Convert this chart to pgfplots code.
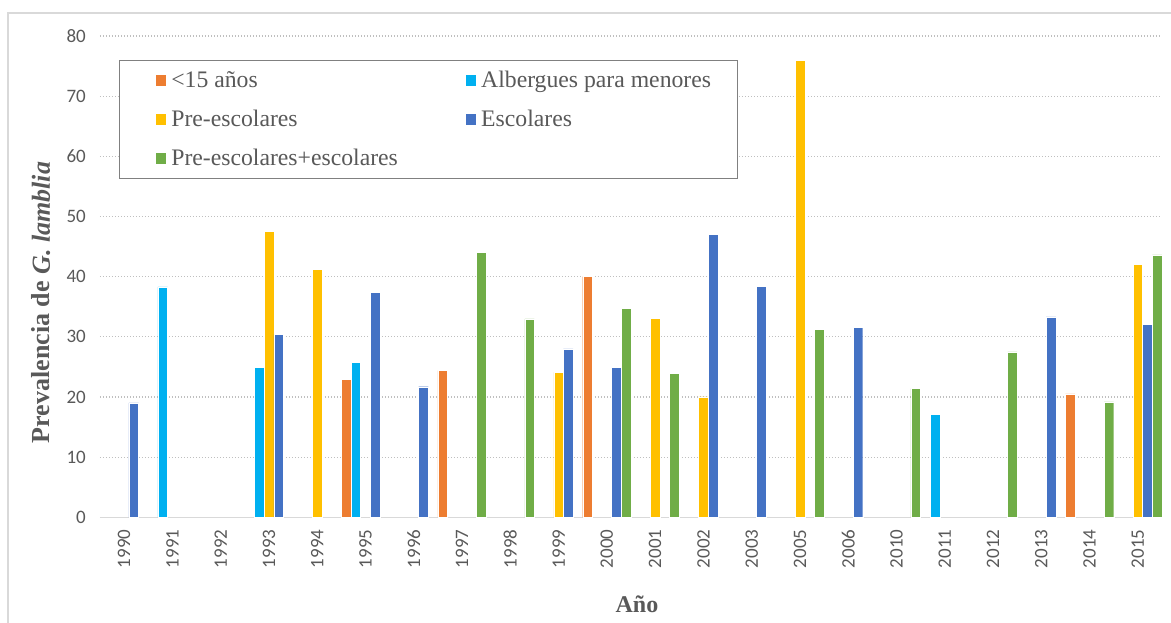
\documentclass[border=0pt]{standalone}
\usepackage{fontspec}
\setmainfont{Liberation Serif}
\newfontfamily\tickfont{Carlito}
\usepackage{pgfplots}
\pgfplotsset{compat=1.18}

\definecolor{cMen}{HTML}{ED7D31}
\definecolor{cAlb}{HTML}{00B0F0}
\definecolor{cPre}{HTML}{FFC000}
\definecolor{cEsc}{HTML}{4472C4}
\definecolor{cMix}{HTML}{70AD47}
\definecolor{txtgray}{HTML}{595959}
\definecolor{gridgray}{HTML}{BFBFBF}
\definecolor{framegray}{HTML}{D9D9D9}

\begin{document}
\begin{tikzpicture}
% page frame (1171 x 623)
\path[use as bounding box] (-100bp,-105.7bp) rectangle (1071bp,517.3bp);
\draw[framegray, line width=1.5bp] (-92bp,-106bp) -- (-92bp,504.3bp) -- (1072bp,504.3bp);

\begin{axis}[
  scale only axis,
  width=1062bp, height=481.3bp,
  xmin=-0.5, xmax=21.5,
  ymin=0, ymax=80,
  ybar, bar width=0.2,
  axis line style={draw=none},
  major tick length=0pt,
  xtick={0,...,21},
  xticklabels={1990,1991,1992,1993,1994,1995,1996,1997,1998,1999,2000,2001,2002,2003,2005,2006,2010,2011,2012,2013,2014,2015},
  xticklabel style={font=\tickfont\fontsize{19bp}{21bp}\selectfont, text=txtgray, rotate=90, anchor=east, inner sep=0pt, xshift=-12bp},
  ytick={10,20,...,80},
  extra y ticks={0},
  extra y tick style={grid style={solid, framegray, line width=1.3bp}},
  ymajorgrids,
  grid style={gridgray, line width=1.1bp, dash pattern=on 1.1bp off 1.9bp},
  yticklabel style={font=\tickfont\fontsize{19bp}{21bp}\selectfont, text=txtgray, inner sep=0pt, xshift=-14bp},
  /pgf/number format/assume math mode=true,
  xlabel={\textbf{Año}},
  ylabel={\textbf{Prevalencia de \textit{G. lamblia}}},
  every axis x label/.style={at={(rel axis cs:0.5056,-0.1968)}, anchor=base,
    font=\fontsize{24bp}{28bp}\selectfont, text=txtgray},
  every axis y label/.style={at={(rel axis cs:-0.0471,0.4463)}, anchor=base, rotate=90,
    font=\fontsize{26bp}{30bp}\selectfont, text=txtgray},
  legend columns=2,
  legend cell align=left,
  legend image code/.code={%
    \path (-10bp,0bp);
    \fill[#1, draw=none] (0bp,-5.6bp) rectangle (10.7bp,5.1bp);},
  legend style={
    at={(0.0179,0.9501)}, anchor=north west,
    draw=gray, line width=0.9bp,
    inner xsep=26bp, inner ysep=9bp,
    row sep=17bp,
    font=\fontsize{23.7bp}{28bp}\selectfont, text=txtgray,
    nodes={inner sep=0pt, text height=18.3bp, text depth=3.7bp},
    /tikz/column 1/.style={column sep=5bp},
    /tikz/column 2/.style={column sep=57.4bp},
    /tikz/column 3/.style={column sep=5bp},
  },
]
% <15 años
\addplot[fill=cMen, draw=white, line width=0.4bp, bar shift=-0.4]
  coordinates {(5,22.9) (7,24.4) (10,40.0) (20,20.5)};
% Albergues para menores
\addplot[fill=cAlb, draw=white, line width=0.4bp, bar shift=-0.2]
  coordinates {(1,38.3) (3,24.9) (5,25.8) (17,17.1)};
% Pre-escolares
\addplot[fill=cPre, draw=white, line width=0.4bp, bar shift=0]
  coordinates {(3,47.5) (4,41.2) (9,24.1) (11,33.1) (12,20.0) (14,76.0) (21,42.0)};
% Escolares
\addplot[fill=cEsc, draw=white, line width=0.4bp, bar shift=0.2]
  coordinates {(0,19.0) (3,30.4) (5,37.4) (6,21.7) (9,28.0) (10,24.9) (12,47.0)
               (13,38.4) (15,31.6) (19,33.3) (21,32.1)};
% Pre-escolares+escolares
\addplot[fill=cMix, draw=white, line width=0.4bp, bar shift=0.4]
  coordinates {(7,44.0) (8,33.0) (10,34.7) (11,23.9) (14,31.2) (16,21.4) (18,27.5)
               (20,19.2) (21,43.6)};
\legend{<15 años, Albergues para menores, Pre-escolares, Escolares, Pre-escolares+escolares}
\end{axis}
\end{tikzpicture}
\end{document}
